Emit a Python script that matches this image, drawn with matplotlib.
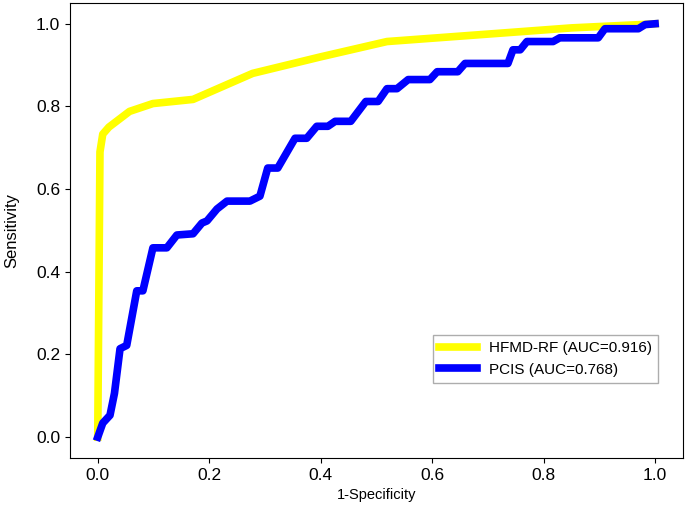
import matplotlib.pyplot as plt

plt.rcParams['font.family'] = ['Liberation Sans', 'DejaVu Sans']

# ROC curve points
rf_fpr = [0.0, 0.004, 0.009, 0.02, 0.057, 0.099, 0.171, 0.278, 0.40, 0.519, 0.70, 0.85, 0.973, 1.0]
rf_tpr = [0.0, 0.69, 0.733, 0.75, 0.788, 0.807, 0.817, 0.880, 0.92, 0.957, 0.975, 0.99, 0.998, 1.0]

pcis_fpr = [0.0, 0.009, 0.022, 0.03, 0.04, 0.052, 0.07, 0.081, 0.099, 0.124, 0.142, 0.171,
            0.187, 0.196, 0.214, 0.232, 0.273, 0.291, 0.305, 0.323, 0.354, 0.375, 0.393,
            0.413, 0.426, 0.454, 0.481, 0.503, 0.519, 0.537, 0.557, 0.596, 0.609, 0.646,
            0.659, 0.736, 0.745, 0.758, 0.770, 0.817, 0.829, 0.898, 0.910, 0.970, 0.982, 1.0]
pcis_tpr = [0.0, 0.034, 0.053, 0.106, 0.214, 0.222, 0.354, 0.354, 0.458, 0.458, 0.489, 0.492,
            0.518, 0.523, 0.552, 0.571, 0.571, 0.583, 0.651, 0.651, 0.723, 0.723, 0.752,
            0.752, 0.764, 0.764, 0.812, 0.812, 0.843, 0.843, 0.865, 0.865, 0.884, 0.884,
            0.904, 0.904, 0.937, 0.937, 0.957, 0.957, 0.966, 0.966, 0.988, 0.988, 0.998, 1.0]

labels = ['HFMD-RF (AUC=0.916)', 'PCIS (AUC=0.768)']

fig = plt.figure(figsize=(6.85, 5.15), dpi=100)
ax = fig.add_axes([0.102, 0.111, 0.895, 0.883])

ax.plot(rf_fpr, rf_tpr, color='yellow', lw=5.5, label=labels[0])
ax.plot(pcis_fpr, pcis_tpr, color='blue', lw=5.5, label=labels[1])

ax.set_xlim(-0.05, 1.05)
ax.set_ylim(-0.05, 1.05)
ax.set_xticks([0.0, 0.2, 0.4, 0.6, 0.8, 1.0])
ax.set_yticks([0.0, 0.2, 0.4, 0.6, 0.8, 1.0])
ax.tick_params(labelsize=12.5)
ax.set_xlabel('1-Specificity', fontsize=10.5)
ax.set_ylabel('Sensitivity', fontsize=12)
ax.yaxis.set_label_coords(-0.083, 0.5)

leg = ax.legend(loc='lower right', bbox_to_anchor=(0.96, 0.165), borderaxespad=0,
                fancybox=False, fontsize=11, handlelength=2.5)
leg.get_frame().set_edgecolor('#999999')

fig.savefig('out.png', dpi=100)
